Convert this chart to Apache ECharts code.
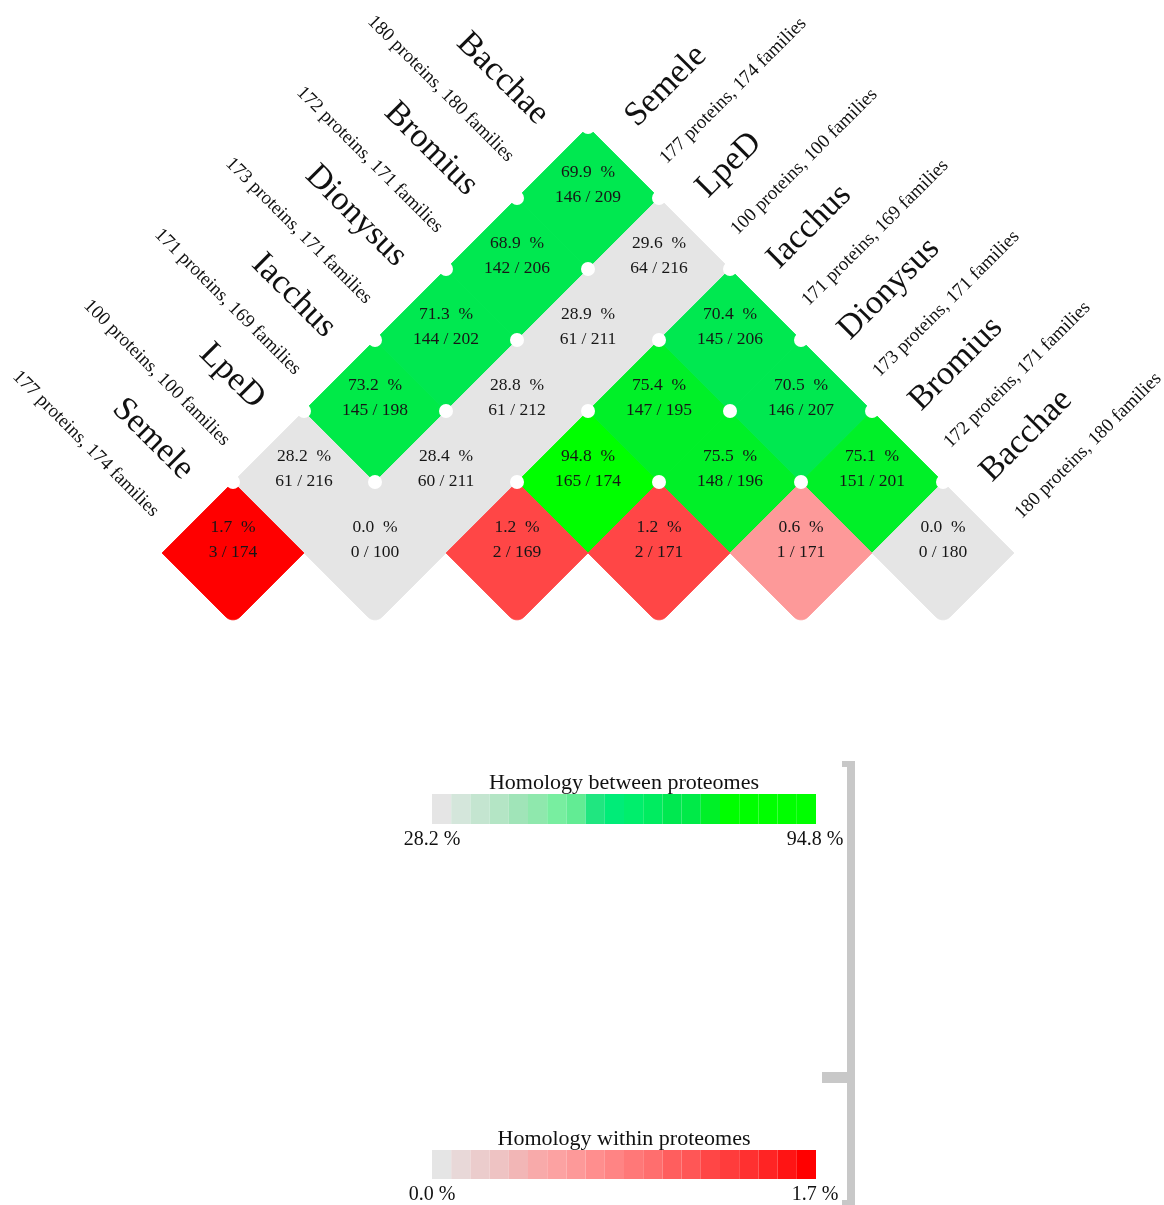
<!DOCTYPE html>
<html>
<head>
<meta charset="utf-8">
<title>Proteome homology</title>
<script src="https://cdn.jsdelivr.net/npm/echarts@6/dist/echarts.min.js"></script>
<style>
  html, body { margin: 0; padding: 0; background: #fff; }
  #chart { width: 1164px; height: 1205px; }
</style>
</head>
<body>
<div id="chart"></div>
<script>
// proteomes, left to right along the base of the triangle
const species = ['Semele', 'LpeD', 'Iacchus', 'Dionysus', 'Bromius', 'Bacchae'];
const proteins = [177, 100, 171, 173, 172, 180];
const families = [174, 100, 169, 171, 171, 180];

// homology within each proteome (base row)
const withinPct = [1.7, 0.0, 1.2, 1.2, 0.6, 0.0];
const withinHits = [3, 0, 2, 2, 1, 0];
const withinTotal = [174, 100, 169, 171, 171, 180];

// homology between proteomes: [i, j, percent, hits, total]
const betweenCells = [
  [0, 1, 28.2, 61, 216],
  [0, 2, 73.2, 145, 198],
  [0, 3, 71.3, 144, 202],
  [0, 4, 68.9, 142, 206],
  [0, 5, 69.9, 146, 209],
  [1, 2, 28.4, 60, 211],
  [1, 3, 28.8, 61, 212],
  [1, 4, 28.9, 61, 211],
  [1, 5, 29.6, 64, 216],
  [2, 3, 94.8, 165, 174],
  [2, 4, 75.4, 147, 195],
  [2, 5, 70.4, 145, 206],
  [3, 4, 75.5, 148, 196],
  [3, 5, 70.5, 146, 207],
  [4, 5, 75.1, 151, 201]
];

// colour scale ends
const betweenRange = [28.2, 94.8];
const withinRange = [0.0, 1.7];

const greenSteps = ['#E5E5E5', '#D4E6DB', '#C4E5D0', '#B4E5C5', '#A0E4B8', '#8FE8AD', '#78EEA0',
  '#62EC94', '#20E680', '#00EC78', '#00EE6C', '#00EC60', '#00E850', '#00EA48', '#00F028',
  '#00FF00', '#00FF00', '#00FF00', '#00FF00', '#00FF00'];
const redSteps = ['#E5E5E5', '#E8D8D8', '#EBCCCC', '#EEC3C3', '#F2B6B6', '#F8AAAA', '#FCA2A2',
  '#FD9999', '#FF8E8E', '#FF8484', '#FF7878', '#FF6E6E', '#FF5E5E', '#FF5656', '#FF4646',
  '#FF3C3C', '#FF3030', '#FF2424', '#FF1414', '#FF0000'];

const serif = '"Liberation Serif", "Times New Roman", serif';
const n = species.length;
const D = Math.SQRT1_2;

// triangle coordinates: u = i + j (along the base), v = j - i (height)
const betweenData = betweenCells.map(c => [c[0] + c[1], c[1] - c[0], c[2], c[3], c[4]]);
const withinData = withinPct.map((p, k) => [2 * k, 0, p, withinHits[k], withinTotal[k]]);

// white dots on the grid vertices above the base
const dotData = [];
for (let v = 1; v <= n; v++) {
  for (let u = v - 1; u <= 2 * n - 1 - v; u += 2) dotData.push([u, v]);
}

function renderCell(roundBottom) {
  return function (params, api) {
    const c = api.coord([api.value(0), api.value(1)]);
    const s = api.size([1, 1]);
    const color = api.visual('color');
    const pts = [[c[0] - s[0], c[1]], [c[0], c[1] - s[1]], [c[0] + s[0], c[1]]];
    if (roundBottom) {
      const r = 10;
      const ay = c[1] + s[1] - r * Math.SQRT2;
      for (let a = 45; a <= 135; a += 5) {
        const t = a * Math.PI / 180;
        pts.push([c[0] + r * Math.cos(t), ay + r * Math.sin(t)]);
      }
    } else {
      pts.push([c[0], c[1] + s[1]]);
    }
    const txt = api.value(2).toFixed(1) + '  %\n' + api.value(3) + ' / ' + api.value(4);
    return {
      type: 'group',
      children: [
        { type: 'polygon', shape: { points: pts }, style: { fill: color, stroke: color, lineWidth: 0.8 } },
        {
          type: 'text', x: c[0], y: c[1] - 13,
          style: {
            text: txt, fill: '#161616', font: '17.5px ' + serif,
            align: 'center', verticalAlign: 'middle', lineHeight: 25
          }
        }
      ]
    };
  };
}

function renderDot(params, api) {
  const c = api.coord([api.value(0), api.value(1)]);
  return { type: 'circle', shape: { cx: c[0], cy: c[1], r: 7 }, style: { fill: '#fff' } };
}

function renderLabels(params, api) {
  const k = api.value(0);
  const countText = proteins[k] + ' proteins, ' + families[k] + ' families';
  // left: diagonal of column k leaving the upper-left edge
  const pl = api.coord([k - 0.5, k + 0.5]);
  // right: diagonal of row k leaving the upper-right edge
  const pr = api.coord([k + n - 0.5, n - 0.5 - k]);
  const nameStyle = { fill: '#111', font: '34px ' + serif, verticalAlign: 'middle' };
  const countStyle = { fill: '#111', font: '19px ' + serif, verticalAlign: 'middle' };
  const ln = 37 * D, lc = 32 * D, rn = 34 * D, rc = 29 * D;
  return {
    type: 'group',
    children: [
      { type: 'text', x: pl[0] - ln + 24 * D, y: pl[1] - ln - 24 * D, rotation: -Math.PI / 4,
        style: Object.assign({ text: species[k], align: 'right' }, nameStyle) },
      { type: 'text', x: pl[0] - lc - 27 * D, y: pl[1] - lc + 27 * D, rotation: -Math.PI / 4,
        style: Object.assign({ text: countText, align: 'right' }, countStyle) },
      { type: 'text', x: pr[0] + rn - 24 * D, y: pr[1] - rn - 24 * D, rotation: Math.PI / 4,
        style: Object.assign({ text: species[k], align: 'left' }, nameStyle) },
      { type: 'text', x: pr[0] + rc + 27 * D, y: pr[1] - rc + 27 * D, rotation: Math.PI / 4,
        style: Object.assign({ text: countText, align: 'left' }, countStyle) }
    ]
  };
}

const chart = echarts.init(document.getElementById('chart'));
const bracket = '#C8C8C8';
const option = {
  animation: false,
  backgroundColor: '#fff',
  grid: { left: 162, top: 127, width: 852, height: 497 },
  xAxis: { type: 'value', min: -1, max: 2 * n - 1, show: false },
  yAxis: { type: 'value', min: -1, max: n, show: false },
  visualMap: [
    {
      type: 'piecewise', seriesIndex: 0, dimension: 2,
      min: betweenRange[0], max: betweenRange[1], splitNumber: 20,
      orient: 'horizontal', left: 432, top: 794, padding: 0,
      itemWidth: 19.2, itemHeight: 30, itemGap: 0, itemSymbol: 'rect',
      showLabel: false, selectedMode: false, hoverLink: false,
      inRange: { color: greenSteps }
    },
    {
      type: 'piecewise', seriesIndex: 1, dimension: 2,
      min: withinRange[0], max: withinRange[1], splitNumber: 20,
      orient: 'horizontal', left: 432, top: 1150, padding: 0,
      itemWidth: 19.2, itemHeight: 29, itemGap: 0, itemSymbol: 'rect',
      showLabel: false, selectedMode: false, hoverLink: false,
      inRange: { color: redSteps }
    }
  ],
  graphic: [
    { type: 'text', x: 624, y: 783, style: { text: 'Homology between proteomes', font: '22px ' + serif, fill: '#111', align: 'center', verticalAlign: 'middle' } },
    { type: 'text', x: 432, y: 840, style: { text: betweenRange[0].toFixed(1) + ' %', font: '20px ' + serif, fill: '#111', align: 'center', verticalAlign: 'middle' } },
    { type: 'text', x: 815, y: 840, style: { text: betweenRange[1].toFixed(1) + ' %', font: '20px ' + serif, fill: '#111', align: 'center', verticalAlign: 'middle' } },
    { type: 'text', x: 624, y: 1139, style: { text: 'Homology within proteomes', font: '22px ' + serif, fill: '#111', align: 'center', verticalAlign: 'middle' } },
    { type: 'text', x: 432, y: 1195, style: { text: withinRange[0].toFixed(1) + ' %', font: '20px ' + serif, fill: '#111', align: 'center', verticalAlign: 'middle' } },
    { type: 'text', x: 815, y: 1195, style: { text: withinRange[1].toFixed(1) + ' %', font: '20px ' + serif, fill: '#111', align: 'center', verticalAlign: 'middle' } },
    { type: 'rect', shape: { x: 847, y: 761, width: 8, height: 445 }, style: { fill: bracket } },
    { type: 'rect', shape: { x: 842, y: 761, width: 13, height: 6 }, style: { fill: bracket } },
    { type: 'rect', shape: { x: 842, y: 1200, width: 13, height: 6 }, style: { fill: bracket } },
    { type: 'rect', shape: { x: 822, y: 1072, width: 28, height: 11 }, style: { fill: bracket } }
  ],
  series: [
    { type: 'custom', name: 'between', renderItem: renderCell(false), data: betweenData },
    { type: 'custom', name: 'within', renderItem: renderCell(true), data: withinData },
    { type: 'custom', name: 'dots', renderItem: renderDot, data: dotData, z: 3 },
    { type: 'custom', name: 'labels', renderItem: renderLabels, data: species.map((s, k) => [k]), z: 4 }
  ]
};
chart.setOption(option);
</script>
</body>
</html>
